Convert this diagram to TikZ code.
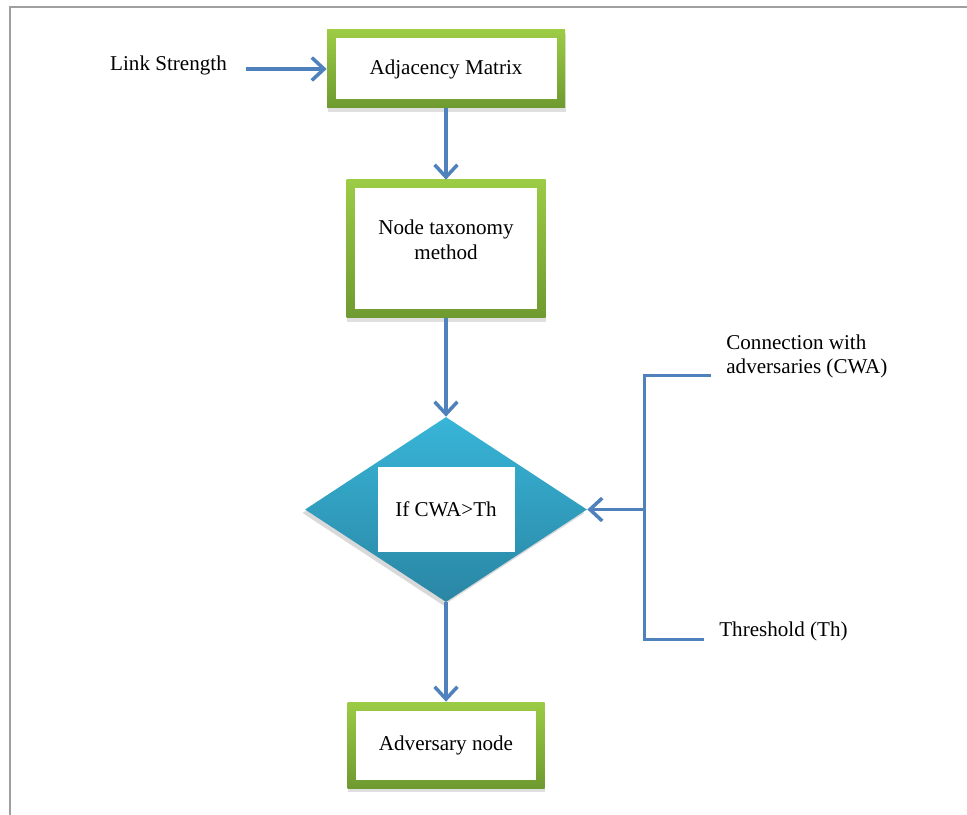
\documentclass[tikz,border=0pt]{standalone}
\usepackage{fontspec}
\setmainfont{Liberation Serif}
\usetikzlibrary{positioning,shapes.geometric,arrows.meta,shadows}
\definecolor{boxtop}{HTML}{9CCB45}
\definecolor{boxbot}{HTML}{6F9A30}
\definecolor{dectop}{HTML}{38B5D8}
\definecolor{decbot}{HTML}{2A86A4}
\definecolor{flowblue}{HTML}{4F81BD}

\begin{document}
\begin{tikzpicture}%
		[>={Straight Barb[length=7pt,width=13pt]},
		node distance=3.6cm,
		on grid,
		font=\fontsize{12}{14}\selectfont
		]
		\tikzstyle{box}=[rectangle, top color=boxtop, bottom color=boxbot, align=center,
			drop shadow={shadow xshift=0.5pt, shadow yshift=-2pt, opacity=0.25},
			path picture={\fill[white] ([shift={(0.17cm,0.17cm)}]path picture bounding box.south west)
				rectangle ([shift={(-0.17cm,-0.17cm)}]path picture bounding box.north east);}]
		\tikzstyle{dec}=[diamond, inner sep=0pt, minimum width=5.64cm, minimum height=3.7cm,
			top color=dectop, bottom color=decbot,
			drop shadow={shadow xshift=-1.5pt, shadow yshift=-2pt, opacity=0.3}]
		\tikzstyle{lbl}=[inner sep=0pt, align=left]
		\tikzstyle{flow}=[draw=flowblue, line width=2pt]

		\useasboundingbox (0,0) rectangle (19.34,16.28);
		% frame round the figure
		\draw[gray!75, line width=1.2pt] (0.2,-0.5) -- (0.2,16.14) -- (20,16.14);

		\node[box, minimum width=4.76cm, minimum height=1.56cm] (Adj) at (8.92,14.9) {Adjacency Matrix};
		\node[box, minimum width=3.98cm, minimum height=2.76cm] (Tax) [below=of Adj] {Node taxonomy\\method\\[-0.11cm]};
		\node[dec] (Dec) [below=5.21cm of Tax] {};
		\node[fill=white, minimum width=2.74cm, minimum height=1.7cm] (Cond) at (Dec.center) {If CWA>Th};
		\node[box, minimum width=3.94cm, minimum height=1.72cm] (Adv) [below=4.71cm of Dec] {Adversary node};

		\node (Link) [left=5.55cm of Adj, yshift=0.08cm] {Link Strength};
		\node[lbl, anchor=west] (Cwa) at ([xshift=5.6cm, yshift=3.06cm]Dec.center) {Connection with\\adversaries (CWA)};
		\node[lbl, anchor=west] (Th) at ([xshift=5.46cm, yshift=-2.44cm]Dec.center) {Threshold (Th)};

		\coordinate (CwaEnd) at ([xshift=-0.3cm, yshift=-0.38cm]Cwa.west);
		\coordinate (ThEnd) at ([xshift=-0.3cm, yshift=-0.16cm]Th.west);
		\coordinate (Join) at ([xshift=1.14cm]Dec.east);

		\path[->]
		(Link.east |- Adj.west) edge[flow, shorten <=0.26cm] (Adj.west)
		(Adj) edge[flow] (Tax)
		(Tax) edge[flow] (Dec)
		(Dec) edge[flow] (Adv)
		(Join) edge[flow] (Dec.east)
		;
		\draw[flow] (CwaEnd) -| (Join) |- (ThEnd);
		\end{tikzpicture}
\end{document}
